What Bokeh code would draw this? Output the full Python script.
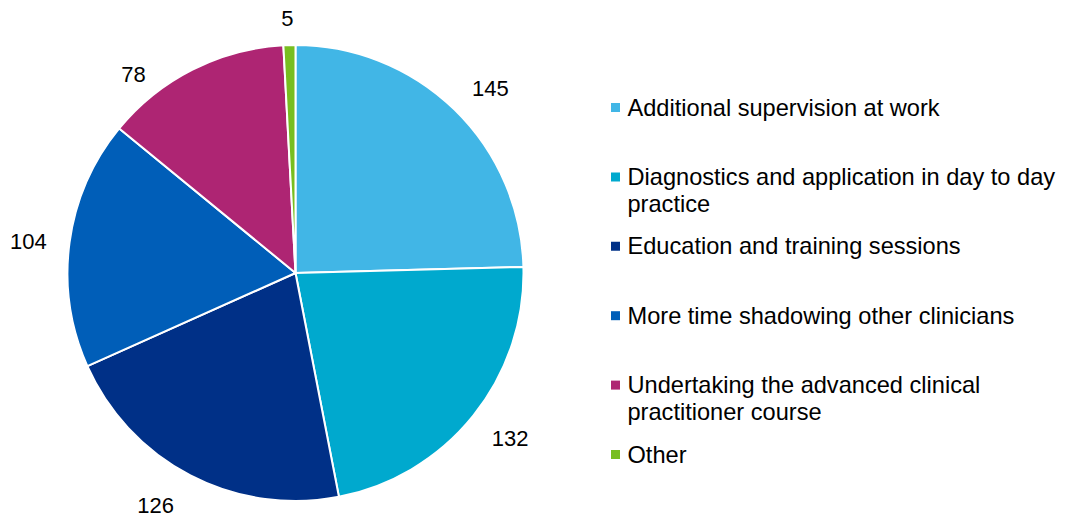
import math
from bokeh.plotting import figure
from bokeh.models import ColumnDataSource, Range1d
from bokeh.embed import file_html
from bokeh.resources import INLINE
from bokeh.core.properties import value

# ---- data ----
categories = [
    "Additional supervision at work",
    "Diagnostics and application in day to day\npractice",
    "Education and training sessions",
    "More time shadowing other clinicians",
    "Undertaking the advanced clinical\npractitioner course",
    "Other",
]
counts = [145, 132, 126, 104, 78, 5]
colors = ["#41B6E6", "#00A9CE", "#003087", "#005EB8", "#AE2573", "#78BE20"]

# ---- layout ----
W, H = 1065, 518
CX, CY, R = 295, 272.5, 228
FONT = value("Liberation Sans")


def fy(py):
    return H - py


p = figure(width=W, height=H, output_backend="svg", toolbar_location=None,
           x_range=Range1d(0, W), y_range=Range1d(0, H), min_border=0)
p.axis.visible = False
p.grid.visible = False
p.outline_line_color = None
p.background_fill_color = "white"
p.border_fill_color = "white"

total = float(sum(counts))
starts, ends, mids = [], [], []
cum = 0.0
for c in counts:
    a0 = math.pi / 2 - cum / total * 2 * math.pi
    cum += c
    a1 = math.pi / 2 - cum / total * 2 * math.pi
    starts.append(a0)
    ends.append(a1)
    mids.append((a0 + a1) / 2)

src = ColumnDataSource(dict(start=starts, end=ends, color=colors,
                            x=[CX] * len(counts), y=[fy(CY)] * len(counts)))
p.wedge(x="x", y="y", radius=R, start_angle="start", end_angle="end",
        direction="clock", fill_color="color", line_color="white",
        line_width=2, source=src)

# data labels (outside end, Excel best-fit style)
lab_r = [268, 271, 271, 269, 256, 255]
lab_shift = [-2.4, 1.1, -3.6, 0.9, 12.4, 0.3]  # degrees
lx, ly, lt = [], [], []
for i, c in enumerate(counts):
    a = mids[i] + math.radians(lab_shift[i])
    lx.append(CX + lab_r[i] * math.cos(a))
    ly.append(fy(CY) + lab_r[i] * math.sin(a))
    lt.append(str(c))
p.text(x=lx, y=ly, text=lt, text_align="center", text_baseline="middle",
       text_font=FONT, text_font_size="22px", text_color="#000000")

# legend
LEG_X, LEG_Y0, LEG_DY, LINE_H = 615, 107, 69.4, 27
sq_x, sq_y, tx, ty, tt = [], [], [], [], []
for i, lab in enumerate(categories):
    y0 = LEG_Y0 + i * LEG_DY
    sq_x.append(LEG_X)
    sq_y.append(fy(y0))
    for j, line in enumerate(lab.split("\n")):
        tx.append(LEG_X + 12)
        ty.append(fy(y0 + j * LINE_H))
        tt.append(line)
p.rect(x=sq_x, y=sq_y, width=9, height=9, fill_color=colors, line_color=None)
p.text(x=tx, y=ty, text=tt, text_align="left", text_baseline="middle",
       text_font=FONT, text_font_size="23.6px", text_color="#000000")

open("out.html", "w").write(file_html(p, INLINE))
